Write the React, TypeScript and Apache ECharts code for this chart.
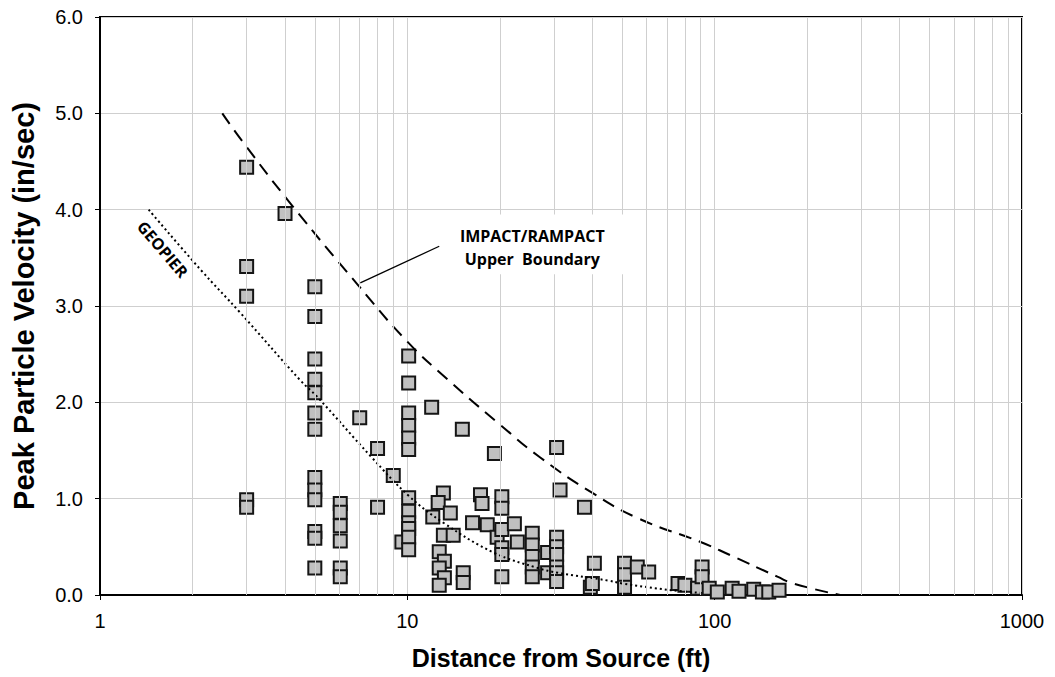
import React, { useEffect, useRef } from "react";
import * as echarts from "echarts";

// Measured PPV points: [distance (ft), peak particle velocity (in/sec)]
const measured: [number, number][] = [
  [3, 4.44], [3, 3.41], [3, 3.1], [3, 0.99], [3, 0.91],
  [4, 3.96],
  [5, 3.2], [5, 2.89], [5, 2.45], [5, 2.24], [5, 2.1], [5, 1.89], [5, 1.72],
  [5, 1.22], [5, 1.09], [5, 0.99], [5, 0.66], [5, 0.59], [5, 0.28],
  [6.05, 0.95], [6.05, 0.86], [6.05, 0.72], [6.05, 0.56], [6.05, 0.28], [6.05, 0.19],
  [7, 1.84],
  [8, 1.52], [8, 0.91],
  [9, 1.24],
  [9.6, 0.55],
  [10.1, 2.48], [10.1, 2.2], [10.1, 1.89], [10.1, 1.76], [10.1, 1.63], [10.1, 1.51],
  [10.1, 1.01], [10.1, 0.87], [10.1, 0.75], [10.1, 0.69], [10.1, 0.6], [10.1, 0.47],
  [12, 1.95],
  [13.1, 1.06], [12.6, 0.96], [13.8, 0.85], [12.1, 0.81], [13.1, 0.62], [14.1, 0.62],
  [12.7, 0.45], [13.2, 0.35], [12.7, 0.28], [13.2, 0.18], [12.7, 0.1],
  [15.1, 1.72], [15.2, 0.23], [15.2, 0.13],
  [16.3, 0.75], [17.3, 1.04], [17.5, 0.95], [18.2, 0.73],
  [19.2, 1.47],
  [19.6, 0.6], [20.3, 1.02], [20.3, 0.9], [20.3, 0.68], [20.3, 0.49], [20.3, 0.42], [20.3, 0.19],
  [22.3, 0.74], [22.8, 0.55],
  [25.5, 0.64], [25.5, 0.52], [25.5, 0.4], [25.5, 0.29], [25.5, 0.19],
  [28.6, 0.44], [28.6, 0.23],
  [30.6, 1.53], [31.4, 1.09],
  [30.6, 0.6], [30.6, 0.5], [30.6, 0.42], [30.6, 0.29], [30.6, 0.23], [30.6, 0.14],
  [37.7, 0.91],
  [39.4, 0.08], [40.6, 0.33], [40, 0.12],
  [50.9, 0.33], [50.9, 0.21], [50.9, 0.08],
  [56, 0.29], [61, 0.24],
  [76, 0.12], [80, 0.1], [88, 0.07],
  [91, 0.29], [91, 0.19],
  [96, 0.07], [102, 0.03], [114, 0.07], [120, 0.04], [134, 0.06], [143, 0.03], [150, 0.03], [162, 0.05],
];

// IMPACT/RAMPACT upper boundary (dashed)
const upperBoundary: [number, number][] = [
  [2.5, 5.0], [2.92, 4.7], [4.25, 4.03], [6.9, 3.22], [10, 2.63], [13.5, 2.24],
  [20, 1.77], [27, 1.43], [40, 1.06], [56, 0.8], [90, 0.55], [113, 0.41],
  [160, 0.19], [180, 0.12], [256, 0.0],
];

// GEOPIER trend (dotted)
const geopierTrend: [number, number][] = [
  [1.44, 4.0], [2.12, 3.38], [2.86, 2.93], [4.48, 2.23], [5.08, 2.06], [7.6, 1.44],
  [10.1, 1.03], [13.1, 0.75], [19.1, 0.44], [26.6, 0.28], [31, 0.23], [45, 0.15],
  [50, 0.12], [72, 0.05], [92, 0.02],
];

// Minor log grid lines
const minorGridX = [2, 3, 4, 5, 6, 7, 8, 9, 20, 30, 40, 50, 60, 70, 80, 90, 200, 300, 400, 500, 600, 700, 800, 900];

const xTitle = "Distance from Source (ft)";
const yTitle = "Peak Particle Velocity (in/sec)";
const boundaryLabel = ["IMPACT/RAMPACT", "Upper  Boundary"];
const geopierLabel = "GEOPIER";

const FONT = "'Liberation Sans', Arial, sans-serif";
const GRID = "#cfcfcf";

export default function App() {
  const ref = useRef<HTMLDivElement>(null);

  useEffect(() => {
    if (!ref.current) return;
    const chart = echarts.init(ref.current, null, { renderer: "svg" });
    chart.setOption({
      animation: false,
      backgroundColor: "#fff",
      grid: {
        left: 100, right: 33, top: 17, bottom: 82,
        show: true, borderColor: "#000", borderWidth: 2, backgroundColor: "transparent",
      },
      xAxis: {
        type: "log", logBase: 10, min: 1, max: 1000,
        name: xTitle, nameLocation: "middle", nameGap: 50,
        nameTextStyle: { fontFamily: FONT, fontWeight: "bold", fontSize: 25, color: "#000" },
        axisLine: { show: true, lineStyle: { color: "#000", width: 2 } },
        axisTick: { show: true, length: 5, lineStyle: { color: "#000", width: 1 } },
        axisLabel: { fontFamily: FONT, fontSize: 20, color: "#000", margin: 16, formatter: (v: number) => String(Math.round(v)) },
        splitLine: { show: true, lineStyle: { color: GRID, width: 1 } },
      },
      yAxis: {
        type: "value", min: 0, max: 6, interval: 1,
        name: yTitle, nameLocation: "middle", nameGap: 62,
        nameTextStyle: { fontFamily: FONT, fontWeight: "bold", fontSize: 29, color: "#000" },
        axisLine: { show: true, lineStyle: { color: "#000", width: 2 } },
        axisTick: { show: true, length: 5, lineStyle: { color: "#000", width: 1 } },
        axisLabel: { fontFamily: FONT, fontSize: 20, color: "#000", margin: 17, formatter: (v: number) => v.toFixed(1) },
        splitLine: { show: true, lineStyle: { color: GRID, width: 1 } },
      },
      series: [
        {
          type: "line", data: [], z: 1, silent: true,
          markLine: {
            silent: true, symbol: ["none", "none"], label: { show: false },
            lineStyle: { color: GRID, width: 1, type: "solid" },
            emphasis: { disabled: true },
            data: minorGridX.map((v) => ({ xAxis: v })),
          },
        },
        {
          type: "scatter", data: measured, z: 2, symbol: "rect", symbolSize: 13,
          itemStyle: { color: "#c0c0c0", borderColor: "#151515", borderWidth: 2, opacity: 1 },
        },
        {
          type: "line", data: upperBoundary, z: 3, smooth: 0.5, showSymbol: false, symbol: "none",
          lineStyle: { color: "#000", width: 2, type: [13, 8] },
        },
        {
          type: "line", data: geopierTrend, z: 3, smooth: 0.4, showSymbol: false, symbol: "none",
          lineStyle: { color: "#000", width: 2, type: [2, 3] },
        },
      ],
    });

    const px = (p: [number, number]) => chart.convertToPixel({ gridIndex: 0 }, p) as number[];
    const tl = px([11.9, 3.95]);
    const br = px([57, 3.33]);
    const lineA = px([7.03, 3.24]);
    const lineB = px([12.7, 3.62]);
    const t1 = px([25.5, 3.73]);
    const t2 = px([25.5, 3.49]);
    const g = px([1.6, 3.59]);

    chart.setOption({
      graphic: [
        { type: "rect", z: 50, silent: true, shape: { x: tl[0], y: tl[1], width: br[0] - tl[0], height: br[1] - tl[1] }, style: { fill: "#fff" } },
        { type: "line", z: 60, silent: true, shape: { x1: lineA[0], y1: lineA[1], x2: lineB[0], y2: lineB[1] }, style: { stroke: "#000", lineWidth: 1.3 } },
        { type: "text", z: 60, silent: true, x: t1[0], y: t1[1], style: { text: boundaryLabel[0], fontFamily: "'Open Sans', sans-serif", fontWeight: "bold", fontSize: 16, fill: "#000", align: "center", verticalAlign: "middle" } },
        { type: "text", z: 60, silent: true, x: t2[0], y: t2[1], style: { text: boundaryLabel[1], fontFamily: "'Open Sans', sans-serif", fontWeight: "bold", fontSize: 16, fill: "#000", align: "center", verticalAlign: "middle", whiteSpace: "pre" } },
        { type: "text", z: 60, silent: true, x: g[0], y: g[1], rotation: -0.864, style: { text: geopierLabel, fontFamily: "'Open Sans', sans-serif", fontWeight: "bold", fontSize: 16, fill: "#000", align: "center", verticalAlign: "middle" } },
      ],
    });

    return () => chart.dispose();
  }, []);

  return (
    <div
      ref={ref}
      style={{ position: "fixed", left: 0, top: 0, width: 1055, height: 677, background: "#fff" }}
    />
  );
}
